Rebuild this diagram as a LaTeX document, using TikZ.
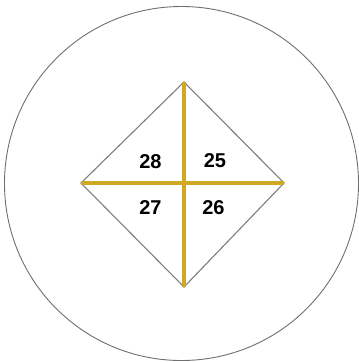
\documentclass[tikz,border=0pt]{standalone}
\usepackage{fontspec}
\setmainfont{Liberation Sans}
\usetikzlibrary{positioning}
\definecolor{gold}{RGB}{208,168,34}
\definecolor{rimgray}{RGB}{110,110,110}
\tikzset{
	rimline/.style={draw=rimgray, line width=0.9pt}
}
\tikzset{
	edgeline/.style={draw=rimgray!90, line width=1.1pt}
}
\tikzset{
	crossline/.style={draw=gold, line width=3.6pt}
}
\tikzset{
	numtext/.style={font=\fontsize{20}{20}\selectfont\bfseries}
}

\begin{document}
\begin{tikzpicture}[x=1pt, y=-1pt]
      \useasboundingbox (0,0) rectangle (359,362);
      % outer circle
      \draw[rimline] (181.5,183.5) circle (177);
      % diamond corners
      \coordinate (top) at (184,82);
      \coordinate (lft) at (81,183);
      \coordinate (rgt) at (284,183);
      \coordinate (bot) at (184,287);
      \draw[edgeline] (top) -- (rgt) -- (bot) -- (lft) -- cycle;
      % gold cross
      \draw[crossline] (top) -- (bot);
      \draw[crossline] (lft) -- (rgt);
      % quarter numbers
      \node[numtext] (n28) at (150.5,162) {28};
      \node[numtext] (n25) at (215,161) {25};
      \node[numtext] (n27) at (150.5,207.5) {27};
      \node[numtext] (n26) at (213.5,208) {26};
    \end{tikzpicture}
\end{document}
